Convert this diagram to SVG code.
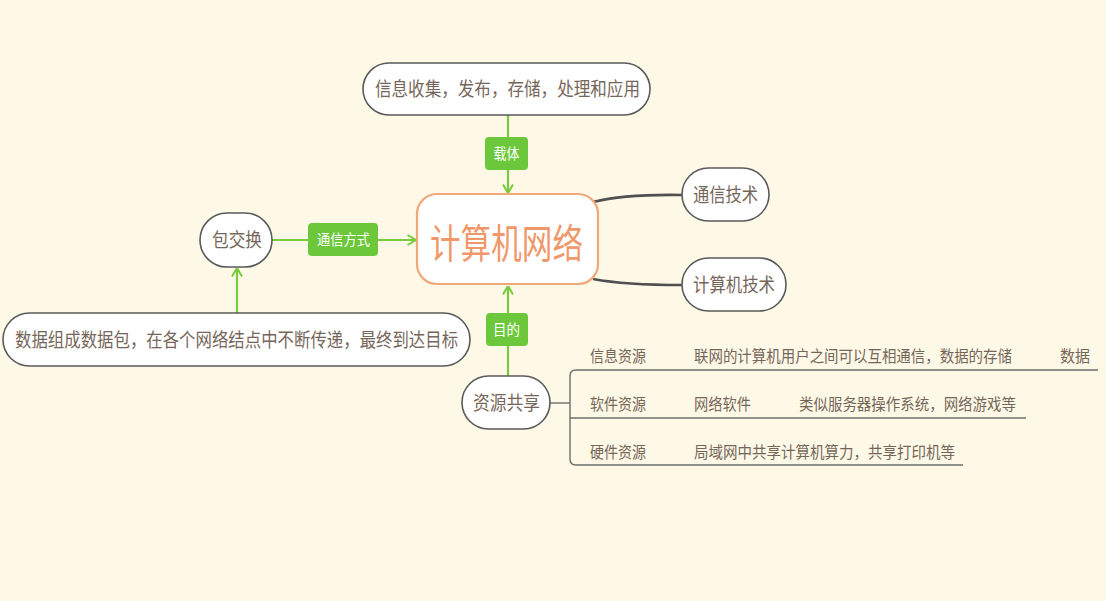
<svg xmlns="http://www.w3.org/2000/svg" width="1106" height="601" viewBox="0 0 1106 601">
<defs>
<style>
.bg{fill:#FDF9E6}
.node{fill:#FFFFFF;stroke:#5A5A5A;stroke-width:1.6}
.center{fill:#FFFFFF;stroke:#F0A878;stroke-width:2.2}
.t{font-family:"Noto Sans CJK SC","Noto Sans",sans-serif;fill:#76665A}
.nt{font-size:19px}
.st{font-size:16px}
.ct{font-size:40px;fill:#F0986A}
.g{stroke:#78CC3C;stroke-width:2.2;fill:none}
.d{stroke:#505050;stroke-width:2.6;fill:none}
.tree{stroke:#6E6E6E;stroke-width:1.4;fill:none}
.lb{fill:#6CC83A}
.lt{font-family:"Noto Sans CJK SC","Noto Sans",sans-serif;font-size:15px;fill:#FFFFFF}
</style>
<marker id="arr" viewBox="0 0 10 12" refX="9.5" refY="6" markerWidth="10" markerHeight="12" markerUnits="userSpaceOnUse" orient="auto">
<path d="M1,1 L9.5,6 L1,11" fill="none" stroke="#78CC3C" stroke-width="2"/>
</marker>
</defs>
<rect class="bg" x="0" y="0" width="1106" height="601"/>
<g id="connectors">
<line class="g" x1="508" y1="115" x2="508" y2="193" marker-end="url(#arr)"/>
<line class="g" x1="272" y1="240" x2="416" y2="240" marker-end="url(#arr)"/>
<line class="g" x1="237" y1="313" x2="237" y2="268" marker-end="url(#arr)"/>
<line class="g" x1="508" y1="376" x2="508" y2="286" marker-end="url(#arr)"/>
<path class="d" d="M593,202 Q625,194 682,195"/>
<path class="d" d="M593,279 Q625,285 682,285"/>
<line class="tree" x1="550" y1="403" x2="570" y2="403"/>
<path class="tree" d="M1098,370 L576,370 Q570,370 570,376 L570,459 Q570,465 576,465 L963,465"/>
<line class="tree" x1="570" y1="418" x2="1026" y2="418"/>
<rect class="lb" x="485" y="137" width="43" height="33" rx="4"/>
<text class="lt" x="493.5" y="159" textLength="26" lengthAdjust="spacingAndGlyphs">载体</text>
<rect class="lb" x="308" y="223" width="70" height="33" rx="4"/>
<text class="lt" x="317" y="245" textLength="53" lengthAdjust="spacingAndGlyphs">通信方式</text>
<rect class="lb" x="486" y="313" width="42" height="33" rx="4"/>
<text class="lt" x="493" y="335" textLength="27" lengthAdjust="spacingAndGlyphs">目的</text>
</g>
<g id="node-center">
<rect class="center" x="417" y="194" width="181" height="90" rx="20"/>
<text class="t ct" x="430" y="258" textLength="153" lengthAdjust="spacingAndGlyphs">计算机网络</text>
</g>
<g id="node-top">
<rect class="node" x="363" y="63" width="287" height="52" rx="26"/>
<text class="t nt" x="375" y="96" textLength="265" lengthAdjust="spacingAndGlyphs">信息收集，发布，存储，处理和应用</text>
</g>
<g id="node-packet">
<rect class="node" x="200" y="213" width="72" height="54" rx="27"/>
<text class="t nt" x="212" y="247" textLength="50" lengthAdjust="spacingAndGlyphs">包交换</text>
</g>
<g id="node-packet-desc">
<rect class="node" x="3" y="313" width="467" height="53" rx="26.5"/>
<text class="t nt" transform="translate(15,347) scale(0.864,1)" x="0" y="0">数据组成数据包，在各个网络结点中不断传递，最终到达目标</text>
</g>
<g id="node-comm">
<rect class="node" x="682" y="168" width="87" height="53" rx="26.5"/>
<text class="t nt" x="693" y="202" textLength="65" lengthAdjust="spacingAndGlyphs">通信技术</text>
</g>
<g id="node-computer">
<rect class="node" x="682" y="258" width="104" height="53" rx="26.5"/>
<text class="t nt" x="693" y="292" textLength="82" lengthAdjust="spacingAndGlyphs">计算机技术</text>
</g>
<g id="node-share">
<rect class="node" x="462" y="376" width="88" height="53" rx="26.5"/>
<text class="t nt" x="473" y="410" textLength="67" lengthAdjust="spacingAndGlyphs">资源共享</text>
</g>
<g id="node-info">
<text class="t st" x="590" y="362" textLength="56" lengthAdjust="spacingAndGlyphs">信息资源</text>
<text class="t st" x="694" y="362" textLength="318" lengthAdjust="spacingAndGlyphs">联网的计算机用户之间可以互相通信，数据的存储</text>
<text class="t st" x="1060" y="362" textLength="30" lengthAdjust="spacingAndGlyphs">数据</text>
</g>
<g id="node-software">
<text class="t st" x="590" y="410" textLength="56" lengthAdjust="spacingAndGlyphs">软件资源</text>
<text class="t st" x="694" y="410" textLength="57" lengthAdjust="spacingAndGlyphs">网络软件</text>
<text class="t st" x="799" y="410" textLength="217" lengthAdjust="spacingAndGlyphs">类似服务器操作系统，网络游戏等</text>
</g>
<g id="node-hardware">
<text class="t st" x="590" y="458" textLength="56" lengthAdjust="spacingAndGlyphs">硬件资源</text>
<text class="t st" x="694" y="458" textLength="261" lengthAdjust="spacingAndGlyphs">局域网中共享计算机算力，共享打印机等</text>
</g>
</svg>
